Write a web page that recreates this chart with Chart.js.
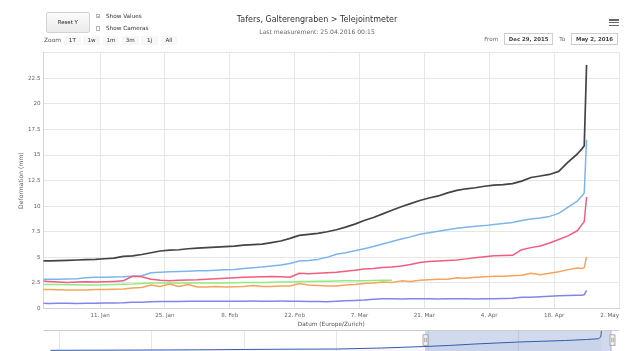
<!DOCTYPE html>
<html>
<head>
<meta charset="utf-8">
<script src="https://cdn.jsdelivr.net/npm/chart.js@4.4.1/dist/chart.umd.min.js"></script>
<style>
  html, body { margin: 0; padding: 0; background: #fff; }
  body { width: 625px; height: 351px; overflow: hidden; position: relative; font-family: "DejaVu Sans", sans-serif; }
  #main { position: absolute; left: 0; top: 0; }
  #nav { position: absolute; left: 0; top: 329px; }
  .lbl { position: absolute; white-space: nowrap; color: #333; font-size: 5.7px; line-height: 8px; height: 8px; }
  #resetY { position: absolute; left: 45.5px; top: 12px; width: 44.5px; height: 20.5px; box-sizing: border-box;
            border: 1px solid #d2d2d2; border-radius: 2px; background: linear-gradient(#fbfbfb, #ebebeb);
            font-size: 5.4px; line-height: 18.5px; text-align: center; color: #222; }
  .cb { position: absolute; width: 4.6px; height: 4.6px; box-sizing: border-box; border: 0.6px solid #b4b4b4;
        background: #fff; font-size: 4.4px; line-height: 3.6px; text-align: center; color: #444; overflow: hidden; }
  .rb { position: absolute; top: 35.7px; width: 16.7px; height: 9.4px; background: #f7f7f7; font-size: 5.6px;
        line-height: 9.4px; text-align: center; color: #333; }
  .inp { position: absolute; top: 33.3px; height: 11.7px; box-sizing: border-box; border: 0.7px solid #cfcfcf;
         font-size: 5.4px; font-weight: bold; line-height: 10.3px; text-align: center; color: #444; background: #fff; }
  .bar { position: absolute; left: 609.3px; width: 9.4px; height: 1.3px; background: #666; }
</style>
</head>
<body>
<canvas id="main" width="625" height="330"></canvas>
<canvas id="nav" width="625" height="60"></canvas>

<div id="resetY">Reset Y</div>
<div class="cb" style="left:95.8px; top:13.9px;">✓</div>
<div class="lbl" style="left:106px; top:12.3px;">Show Values</div>
<div class="cb" style="left:95.8px; top:26.2px;"></div>
<div class="lbl" style="left:106px; top:24.3px;">Show Cameras</div>

<div class="lbl" style="left:44px; top:36px; font-size:5.9px; color:#555;">Zoom</div>
<div class="rb" style="left:64px;">1T</div>
<div class="rb" style="left:83.3px;">1w</div>
<div class="rb" style="left:102.6px;">1m</div>
<div class="rb" style="left:121.9px;">3m</div>
<div class="rb" style="left:141.2px;">1j</div>
<div class="rb" style="left:160.5px;">All</div>

<div class="lbl" style="left:484.3px; top:35px; color:#666; font-size:5.6px;">From</div>
<div class="inp" style="left:504px; width:49.3px;">Dec 29, 2015</div>
<div class="lbl" style="left:559.3px; top:35px; color:#666; font-size:5.6px;">To</div>
<div class="inp" style="left:570.7px; width:47.6px;">May 2, 2016</div>

<div class="bar" style="top:19.4px;"></div>
<div class="bar" style="top:22.1px;"></div>
<div class="bar" style="top:24.8px;"></div>

<script>
// Measurement days, counted from 29 Dec 2015 (day 0); the last reading is 25 Apr 2016.
const days = [
  0, 2, 4, 6, 8, 10, 12, 14, 16, 18,
  20, 22, 24, 26, 28, 30, 32, 34, 36, 38,
  40, 42, 44, 46, 48, 50, 52, 54, 56, 58,
  60, 62, 64, 66, 68, 70, 72, 74, 76, 78,
  80, 82, 84, 86, 88, 90, 92, 94, 96, 98,
  100, 102, 104, 106, 108, 110, 112, 114, 116, 117, 117.5, 118
];

// Deformation in mm, one list per joint meter
const blackValues = [
  4.65, 4.66, 4.68, 4.70, 4.74, 4.78, 4.80, 4.86, 4.92, 5.10,
  5.14, 5.28, 5.45, 5.62, 5.70, 5.74, 5.84, 5.90, 5.95, 6.00,
  6.05, 6.10, 6.20, 6.24, 6.30, 6.44, 6.60, 6.85, 7.15, 7.24,
  7.35, 7.50, 7.70, 7.95, 8.25, 8.60, 8.90, 9.25, 9.60, 9.95,
  10.25, 10.55, 10.80, 11.00, 11.30, 11.55, 11.70, 11.80, 11.95, 12.05,
  12.10, 12.20, 12.45, 12.80, 12.95, 13.10, 13.40, 14.30, 15.10, 15.60, 15.90, 23.80
];
const blueValues = [
  2.85, 2.85, 2.87, 2.88, 2.90, 3.00, 3.05, 3.05, 3.08, 3.10,
  3.15, 3.20, 3.50, 3.55, 3.60, 3.62, 3.65, 3.68, 3.70, 3.75,
  3.78, 3.82, 3.90, 3.98, 4.05, 4.15, 4.25, 4.40, 4.65, 4.70,
  4.80, 5.00, 5.30, 5.45, 5.65, 5.85, 6.05, 6.30, 6.55, 6.80,
  7.00, 7.25, 7.40, 7.55, 7.70, 7.85, 7.95, 8.05, 8.10, 8.20,
  8.30, 8.40, 8.60, 8.75, 8.85, 9.00, 9.30, 9.90, 10.50, 11.00, 11.30, 16.50
];
const redValues = [
  2.70, 2.65, 2.60, 2.55, 2.60, 2.62, 2.60, 2.62, 2.65, 2.70,
  3.15, 3.10, 2.85, 2.75, 2.72, 2.75, 2.78, 2.80, 2.85, 2.90,
  2.95, 3.00, 3.05, 3.08, 3.10, 3.12, 3.10, 3.05, 3.45, 3.40,
  3.45, 3.50, 3.55, 3.65, 3.75, 3.85, 3.90, 4.00, 4.05, 4.15,
  4.30, 4.50, 4.60, 4.65, 4.70, 4.75, 4.85, 4.95, 5.05, 5.15,
  5.18, 5.20, 5.75, 5.95, 6.10, 6.40, 6.75, 7.10, 7.60, 8.20, 8.50, 10.90
];
const greenValues = [
  2.35, 2.35, 2.34, 2.33, 2.32, 2.30, 2.30, 2.32, 2.35, 2.38,
  2.40, 2.45, 2.50, 2.50, 2.50, 2.50, 2.49, 2.50, 2.50, 2.50,
  2.50, 2.52, 2.53, 2.55, 2.55, 2.56, 2.58, 2.60, 2.65, 2.65,
  2.66, 2.67, 2.68, 2.70, 2.70, 2.72, 2.73, 2.75, 2.75, null,
  null, null, null, null, null, null, null, null, null, null,
  null, null, null, null, null, null, null, null, null, null, null, null
];
const orangeValues = [
  1.85, 1.85, 1.83, 1.82, 1.80, 1.82, 1.85, 1.85, 1.87, 1.90,
  2.00, 2.05, 2.30, 2.15, 2.40, 2.15, 2.35, 2.10, 2.10, 2.15,
  2.10, 2.12, 2.15, 2.25, 2.15, 2.15, 2.20, 2.20, 2.45, 2.30,
  2.25, 2.20, 2.20, 2.30, 2.35, 2.45, 2.50, 2.60, 2.55, 2.70,
  2.65, 2.75, 2.80, 2.85, 2.85, 3.00, 2.95, 3.05, 3.10, 3.15,
  3.15, 3.20, 3.25, 3.45, 3.30, 3.45, 3.60, 3.80, 3.95, 3.90, 4.00, 5.05
];
const purpleValues = [
  0.52, 0.50, 0.52, 0.51, 0.50, 0.52, 0.52, 0.53, 0.54, 0.55,
  0.62, 0.62, 0.65, 0.68, 0.68, 0.69, 0.70, 0.70, 0.71, 0.70,
  0.72, 0.71, 0.72, 0.73, 0.72, 0.72, 0.73, 0.72, 0.70, 0.68,
  0.68, 0.66, 0.70, 0.75, 0.78, 0.82, 0.90, 0.95, 0.95, 0.94,
  0.95, 0.96, 0.95, 0.94, 0.95, 0.96, 0.95, 0.94, 0.95, 0.95,
  0.98, 1.00, 1.10, 1.10, 1.15, 1.20, 1.25, 1.28, 1.30, 1.30, 1.35, 1.77
];

// Axis ticks of the main chart
const xTickDays = [13, 27, 41, 55, 69, 83, 97, 111, 125];
const xTickLabels = ['11. Jan', '25. Jan', '8. Feb', '22. Feb', '7. Mar', '21. Mar', '4. Apr', '18. Apr', '2. May'];
const yTickValues = [0, 2.5, 5, 7.5, 10, 12.5, 15, 17.5, 20, 22.5, 25];
const yTickLabels = ['0', '2.5', '5', '7.5', '10', '12.5', '15', '17.5', '20', '22.5', ''];

// Visible window: 29 Dec 2015 to 2 May 2016
const xMin = 0.8;
const xMax = 125;

// Overview strip: whole history since spring 2015
const navDays = [-248, -242, -211, -181, -150, -119, -89, -58, -28, 0, 17, 34, 63, 94, 108, 116, 117.5, 118];
const navValues = [2.1, 2.2, 2.3, 2.5, 2.7, 3.1, 3.4, 3.6, 4.75, 6.4, 7.6, 9.25, 11.5, 13.2, 14.3, 15.2, 17.1, 24.2];
const navTickDays = [-242, -181, -119, -58, 3, 63, 124];
const navTickLabels = ["May '15", "Jul '15", "Sep '15", "Nov '15", "Jan '16", "Mar '16", "May '16"];
const navMin = -252.6;
const navMax = 129.65;

Chart.defaults.font.family = "'DejaVu Sans', sans-serif";
Chart.defaults.color = '#666';

const seriesList = [
  { name: 'TJM 2', values: blackValues, color: '#434348', width: 1.7 },
  { name: 'TJM 6', values: redValues, color: '#f15c80', width: 1.5 },
  { name: 'TJM 1', values: blueValues, color: '#7cb5ec', width: 1.5 },
  { name: 'TJM 4', values: orangeValues, color: '#f7a35c', width: 1.5 },
  { name: 'TJM 3', values: greenValues, color: '#90ed7d', width: 1.5 },
  { name: 'TJM 5', values: purpleValues, color: '#8085e9', width: 1.5 }
];

new Chart(document.getElementById('main'), {
  type: 'line',
  data: {
    datasets: seriesList.map(s => ({
      label: s.name,
      data: days.map((d, i) => ({ x: d, y: s.values[i] })),
      borderColor: s.color,
      borderWidth: s.width,
      borderJoinStyle: 'round',
      pointRadius: 0,
      fill: false,
      tension: 0,
      spanGaps: false
    }))
  },
  options: {
    responsive: false,
    animation: false,
    devicePixelRatio: 1,
    events: [],
    layout: { padding: { left: 15, right: 6, top: 0, bottom: 0 } },
    plugins: {
      legend: { display: false },
      tooltip: { enabled: false },
      title: {
        display: true,
        text: 'Tafers, Galterengraben > Telejointmeter',
        color: '#333',
        font: { size: 8, weight: 'normal' },
        padding: { top: 15.2, bottom: 3.84 }
      },
      subtitle: {
        display: true,
        text: 'Last measurement: 25.04.2016 00:15',
        color: '#666',
        font: { size: 6.1 },
        padding: { top: 0, bottom: 16.74 }
      }
    },
    scales: {
      x: {
        type: 'linear',
        min: xMin,
        max: xMax,
        bounds: 'data',
        afterBuildTicks(scale) { scale.ticks = [xMin, ...xTickDays].map(v => ({ value: v })); },
        afterFit(scale) { scale.height = 21.5; scale.paddingLeft = 0; scale.paddingRight = 0; },
        ticks: {
          autoSkip: false, maxRotation: 0, minRotation: 0, align: 'inner',
          padding: 4.1, color: '#666', font: { size: 5.6 },
          callback: (v) => { const k = xTickDays.indexOf(v); return k < 0 ? '' : xTickLabels[k]; }
        },
        grid: { color: '#e6e6e6', drawTicks: false },
        border: { display: true, color: '#ccd6eb' },
        title: {
          display: true, text: 'Datum (Europe/Zurich)', color: '#555',
          font: { size: 5.8 }, padding: { top: 0, bottom: 1.8 }
        }
      },
      y: {
        min: 0,
        max: 25,
        bounds: 'data',
        afterBuildTicks(scale) { scale.ticks = yTickValues.map(v => ({ value: v })); },
        afterFit(scale) { scale.width = 28.5; scale.paddingTop = 0; scale.paddingBottom = 0; },
        ticks: {
          padding: 3, color: '#666', font: { size: 5.6 },
          callback: (v) => { const k = yTickValues.indexOf(v); return k < 0 ? '' : yTickLabels[k]; }
        },
        grid: { color: '#e6e6e6', drawTicks: false },
        border: { display: true, color: '#ccd6eb' },
        title: {
          display: true, text: 'Deformation (mm)', color: '#666',
          font: { size: 6.1 }, padding: { top: 2.6, bottom: 0 }
        }
      }
    }
  }
});

// Selected range mask, outline and drag handles of the overview strip
const navigatorOverlay = {
  id: 'navigatorOverlay',
  beforeDatasetsDraw(chart) {
    const { ctx, chartArea: a, scales: { x } } = chart;
    const x0 = x.getPixelForValue(xMin);
    const x1 = x.getPixelForValue(xMax);
    ctx.save();
    ctx.fillStyle = 'rgba(102,133,194,0.3)';
    ctx.fillRect(x0, a.top, x1 - x0, a.bottom - a.top);
    ctx.restore();
  },
  afterDraw(chart) {
    const { ctx, chartArea: a, scales: { x } } = chart;
    ctx.save();
    ctx.strokeStyle = '#cccccc';
    ctx.lineWidth = 1;
    ctx.beginPath();
    ctx.moveTo(a.left, a.top + 0.5);
    ctx.lineTo(a.right, a.top + 0.5);
    ctx.stroke();
    [xMin, xMax].forEach(v => {
      const px = Math.round(x.getPixelForValue(v)) + 0.5;
      const hy = a.top + 4.8;
      ctx.fillStyle = '#f2f2f2';
      ctx.strokeStyle = '#999';
      ctx.lineWidth = 0.8;
      ctx.fillRect(px - 2.5, hy, 5, 10.5);
      ctx.strokeRect(px - 2.5, hy, 5, 10.5);
      ctx.beginPath();
      ctx.moveTo(px - 0.8, hy + 3); ctx.lineTo(px - 0.8, hy + 7.5);
      ctx.moveTo(px + 0.8, hy + 3); ctx.lineTo(px + 0.8, hy + 7.5);
      ctx.stroke();
    });
    ctx.restore();
  }
};

new Chart(document.getElementById('nav'), {
  type: 'line',
  data: {
    datasets: [{
      label: 'Overview',
      data: navDays.map((d, i) => ({ x: d, y: navValues[i] })),
      borderColor: '#335cad',
      borderWidth: 1,
      backgroundColor: 'rgba(51,92,173,0.05)',
      fill: 'start',
      pointRadius: 0,
      tension: 0
    }]
  },
  options: {
    responsive: false,
    animation: false,
    devicePixelRatio: 1,
    events: [],
    layout: { padding: { left: 43.5, right: 6, top: 1, bottom: 0 } },
    plugins: { legend: { display: false }, tooltip: { enabled: false } },
    scales: {
      x: {
        type: 'linear',
        min: navMin,
        max: navMax,
        bounds: 'data',
        afterBuildTicks(scale) { scale.ticks = navTickDays.map(v => ({ value: v })); },
        afterFit(scale) { scale.height = 19; scale.paddingLeft = 0; scale.paddingRight = 0; },
        ticks: {
          autoSkip: false, maxRotation: 0, minRotation: 0, align: 'start', labelOffset: 1.5,
          padding: -26.3, color: '#999', font: { size: 5.5 },
          callback: (v) => { const k = navTickDays.indexOf(v); return k < 0 ? '' : navTickLabels[k]; }
        },
        grid: { color: '#e6e6e6', drawTicks: false },
        border: { display: false }
      },
      y: { display: false, min: -20, max: 25 }
    }
  },
  plugins: [navigatorOverlay]
});
</script>
</body>
</html>
